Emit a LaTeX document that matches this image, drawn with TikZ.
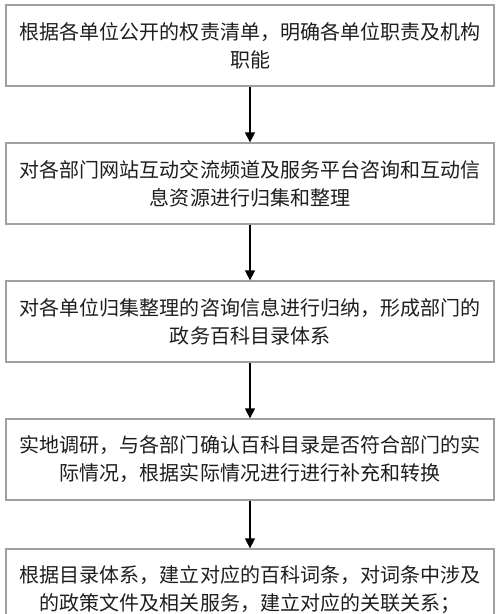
\documentclass[tikz,border=0pt]{standalone}
\usepackage{fontspec}
\setmainfont{Noto Sans CJK SC}
\usetikzlibrary{arrows.meta}
\definecolor{boxline}{HTML}{A0A0A0}
\definecolor{txt}{HTML}{1E1E1E}
\tikzset{
  x=1bp, y=-1bp,
  stepbox/.style={draw=boxline, line width=1.3bp, minimum width=488bp, minimum height=81bp,
    inner sep=0pt, align=center, text=txt,
    font=\fontsize{20bp}{28bp}\selectfont},
  flow/.style={draw=black, line width=1.4bp, -{Triangle[width=10bp,length=10bp]}}
}
\begin{document}
\begin{tikzpicture}
\useasboundingbox (0,0) rectangle (500,614);
\clip (0,0) rectangle (500,614);
\fill[white] (0,0) rectangle (500,614);
\node[stepbox] (b1) at (250,45.5) {根据各单位公开的权责清单，明确各单位职责及机构\\职能};
\node[stepbox] (b2) at (250,183.5) {对各部门网站互动交流频道及服务平台咨询和互动信\\息资源进行归集和整理};
\node[stepbox] (b3) at (250,321.5) {对各单位归集整理的咨询信息进行归纳，形成部门的\\政务百科目录体系};
\node[stepbox] (b4) at (250,459.5) {实地调研，与各部门确认百科目录是否符合部门的实\\际情况，根据实际情况进行进行补充和转换};
\node[stepbox] (b5) at (250,589.5) {根据目录体系，建立对应的百科词条，对词条中涉及\\的政策文件及相关服务，建立对应的关联关系；};
\draw[flow] (b1) -- (b2);
\draw[flow] (b2) -- (b3);
\draw[flow] (b3) -- (b4);
\draw[flow] (b4) -- (b5);
\end{tikzpicture}
\end{document}
